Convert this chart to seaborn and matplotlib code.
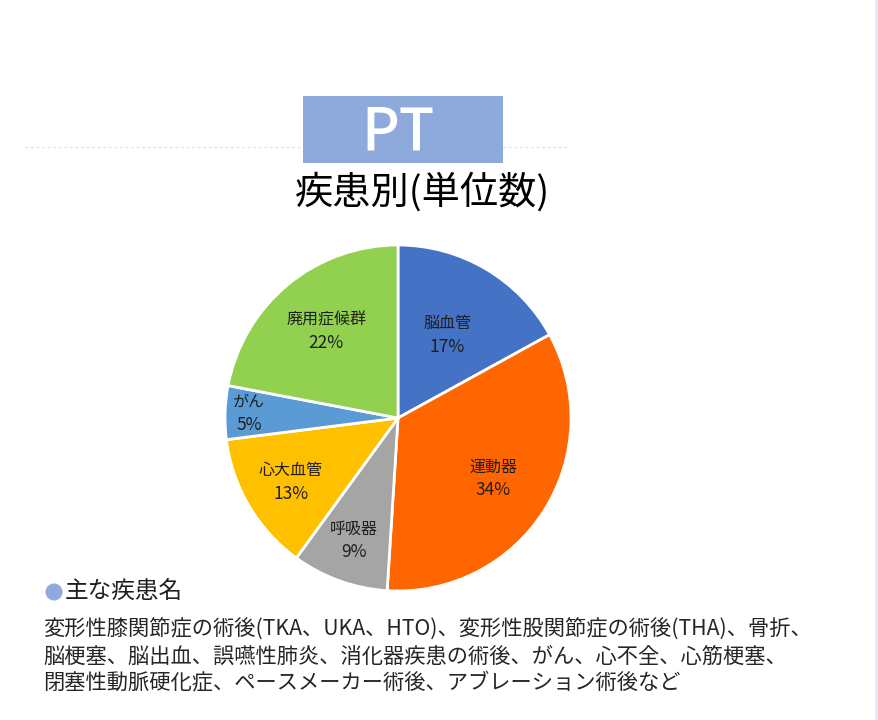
import matplotlib
matplotlib.use('Agg')
import matplotlib.pyplot as plt
import matplotlib.patches as mpatches
import seaborn as sns
import numpy as np

# dados do gráfico (疾患別 単位数, %)
categorias = ['脳血管', '運動器', '呼吸器', '心大血管', 'がん', '廃用症候群']
valores = [17, 34, 9, 13, 5, 22]
cores = ['#4472C4', '#FF6600', '#A5A5A5', '#FFC000', '#5B9BD5', '#92D050']
# distância do rótulo ao centro (fração do raio)
dist_rotulo = [0.56, 0.65, 0.75, 0.72, 0.86, 0.65]

titulo_box = 'PT'
titulo = '疾患別(単位数)'
subtitulo = '主な疾患名'
texto_linhas = [
    '変形性膝関節症の術後(TKA、UKA、HTO)、変形性股関節症の術後(THA)、骨折、',
    '脳梗塞、脳出血、誤嚥性肺炎、消化器疾患の術後、がん、心不全、心筋梗塞、',
    '閉塞性動脈硬化症、ペースメーカー術後、アブレーション術後など',
]

sns.set_theme(style='white')
plt.rcParams['font.family'] = ['Noto Sans CJK JP', 'DejaVu Sans']

W, H = 879, 720
fig = plt.figure(figsize=(W / 100, H / 100), dpi=100)
fig.patch.set_facecolor('white')


def fx(x):
    return x / W


def fy(y):
    return 1 - y / H


# borda clara à direita
fig.add_artist(plt.Line2D([fx(876), fx(876)], [0, 1], color='#E6EAF0', lw=2))
# linha pontilhada fraca (fica atrás da caixa)
fig.add_artist(plt.Line2D([fx(25), fx(570)], [fy(147), fy(147)], color='#E3E3E3',
                          lw=1, ls=(0, (2, 2)), zorder=1))

# caixa azul do "PT"
fig.add_artist(mpatches.Rectangle((fx(303), fy(163)), fx(503) - fx(303), fy(96) - fy(163),
                                  transform=fig.transFigure, facecolor='#8EA9DB',
                                  edgecolor='none', zorder=5))
fig.text(fx(398), fy(133), titulo_box, color='white', fontsize=42, ha='center', va='center',
         fontweight='medium', zorder=6)

fig.text(fx(423), fy(193), titulo, color='black', fontsize=27.5, ha='center', va='center')

# pizza
r = 173
cx, cy = 398, 418
ax = fig.add_axes([fx(cx - r), fy(cy + r), 2 * r / W, 2 * r / H])
paleta = sns.color_palette(cores)
wedges, _ = ax.pie(valores, colors=paleta, startangle=90, counterclock=False,
                   wedgeprops=dict(edgecolor='white', linewidth=2))
ax.set_xlim(-1, 1)
ax.set_ylim(-1, 1)
ax.set_aspect('equal')
ax.axis('off')

for w, nome, v, d in zip(wedges, categorias, valores, dist_rotulo):
    ang = np.deg2rad((w.theta1 + w.theta2) / 2)
    x, y = d * np.cos(ang), d * np.sin(ang)
    ax.text(x, y + 0.065, nome, ha='center', va='center', fontsize=11.5, color='#1F1F1F')
    ax.text(x, y - 0.07, f'{v}%', ha='center', va='center', fontsize=12.5, color='#1F1F1F')

# texto de baixo
fig.add_artist(mpatches.Ellipse((fx(54), fy(592)), 17 / W, 17 / H, transform=fig.transFigure,
                                facecolor='#8EA9DB', edgecolor='none'))
fig.text(fx(65), fy(591), subtitulo, fontsize=17, color='#1F1F1F', ha='left', va='center')
for i, linha in enumerate(texto_linhas):
    fig.text(fx(43), fy(630 + i * 26.5), linha, fontsize=15.3, color='#262626',
             ha='left', va='center')

fig.savefig('out.png', dpi=100)
